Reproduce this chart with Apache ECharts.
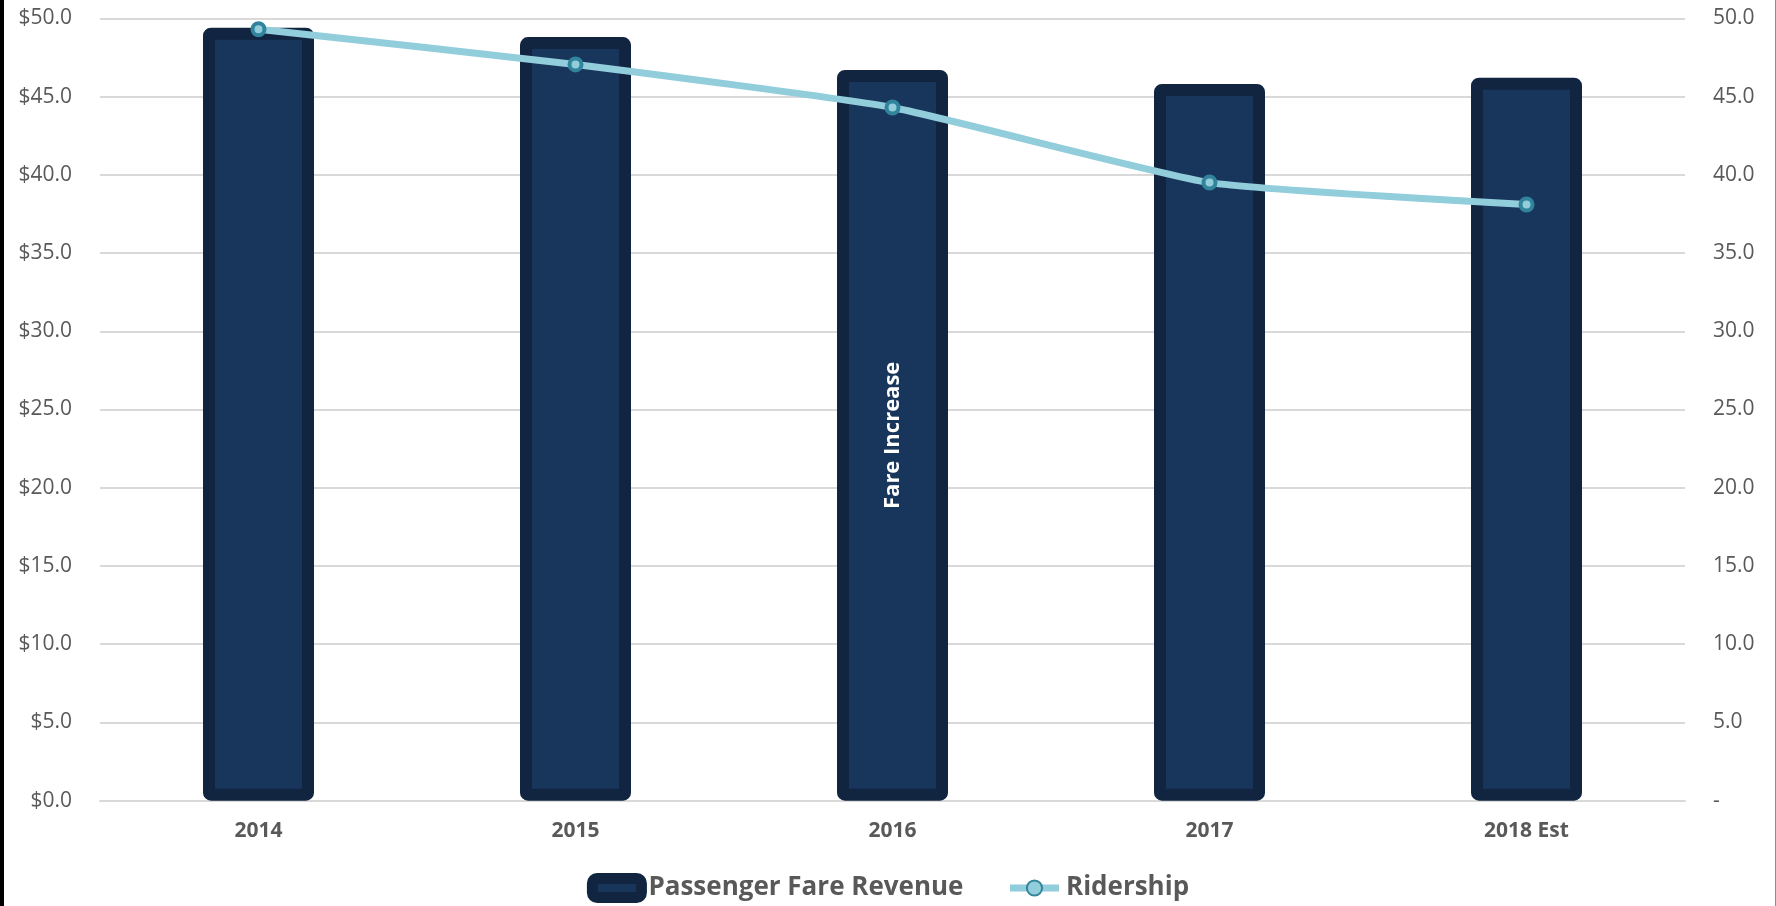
<!DOCTYPE html>
<html>
<head>
<meta charset="utf-8">
<script src="https://cdn.jsdelivr.net/npm/echarts@6/dist/echarts.min.js"></script>
<style>
html,body{margin:0;padding:0;background:#fff;}
#chart{width:1776px;height:906px;}
</style>
</head>
<body>
<div id="chart"></div>
<script>
const categories = ['2014', '2015', '2016', '2017', '2018 Est'];
const fareRevenue = [49.4, 48.8, 46.7, 45.8, 46.2];
const ridership = [49.3, 47.05, 44.3, 39.5, 38.1];
const barNotes = ['', '', 'Fare Increase', '', ''];
const seriesNames = ['Passenger Fare Revenue', 'Ridership'];

const chart = echarts.init(document.getElementById('chart'));
const FONT = '"Open Sans", sans-serif';
const option = {
  backgroundColor: '#ffffff',
  animation: false,
  graphic: [
    { type: 'rect', left: 0, top: 0, shape: { width: 4, height: 906 }, style: { fill: '#000' } },
    { type: 'rect', left: 1775, top: 0, shape: { width: 1, height: 906 }, style: { fill: '#8c8c8c' } }
  ],
  grid: { left: 100, right: 91, top: 18.3, bottom: 105.3, containLabel: false },
  legend: {
    top: 868,
    left: 'center',
    itemGap: 43,
    itemWidth: 49,
    itemHeight: 19,
    textStyle: { fontFamily: FONT, fontSize: 26, fontWeight: 'bold', color: '#595959', lineHeight: 28, padding: [0, 0, 0, 2] },
    data: [
      { name: seriesNames[0], itemStyle: { borderWidth: 11, borderRadius: 3 } },
      { name: seriesNames[1], lineStyle: { width: 7 } }
    ]
  },
  xAxis: {
    type: 'category',
    data: categories,
    axisLine: { show: true, lineStyle: { color: '#d9d9d9', width: 2 } },
    axisTick: { show: false },
    axisLabel: { fontFamily: FONT, fontSize: 21, fontWeight: 'bold', color: '#595959', margin: 20 }
  },
  yAxis: [
    {
      type: 'value', min: 0, max: 50, interval: 5,
      axisLine: { show: false }, axisTick: { show: false },
      splitLine: { lineStyle: { color: '#d9d9d9', width: 2 } },
      axisLabel: { fontFamily: FONT, fontSize: 21, color: '#595959', margin: 28,
        formatter: v => '$' + v.toFixed(1) }
    },
    {
      type: 'value', min: 0, max: 50, interval: 5, position: 'right',
      axisLine: { show: false }, axisTick: { show: false },
      splitLine: { show: false },
      axisLabel: { fontFamily: FONT, fontSize: 21, color: '#595959', margin: 28,
        formatter: v => v === 0 ? '-' : v.toFixed(1) }
    }
  ],
  series: [
    {
      name: seriesNames[0],
      type: 'bar',
      barWidth: 111,
      yAxisIndex: 0,
      data: fareRevenue.map((v, i) => ({ value: v, label: { show: !!barNotes[i], formatter: barNotes[i] } })),
      itemStyle: { color: '#18365c', borderColor: '#112440', borderWidth: 12, borderRadius: 2 },
      label: {
        position: 'inside', rotate: 90, color: '#ffffff',
        fontFamily: FONT, fontSize: 22, fontWeight: 'bold'
      },
      z: 2
    },
    {
      name: seriesNames[1],
      type: 'line',
      yAxisIndex: 1,
      data: ridership,
      smooth: 0.15,
      symbol: 'circle',
      symbolSize: 12,
      lineStyle: { color: '#92cddc', width: 7 },
      itemStyle: { color: '#92cddc', borderColor: '#31849b', borderWidth: 4 },
      z: 3
    }
  ]
};
chart.setOption(option);
</script>
</body>
</html>
